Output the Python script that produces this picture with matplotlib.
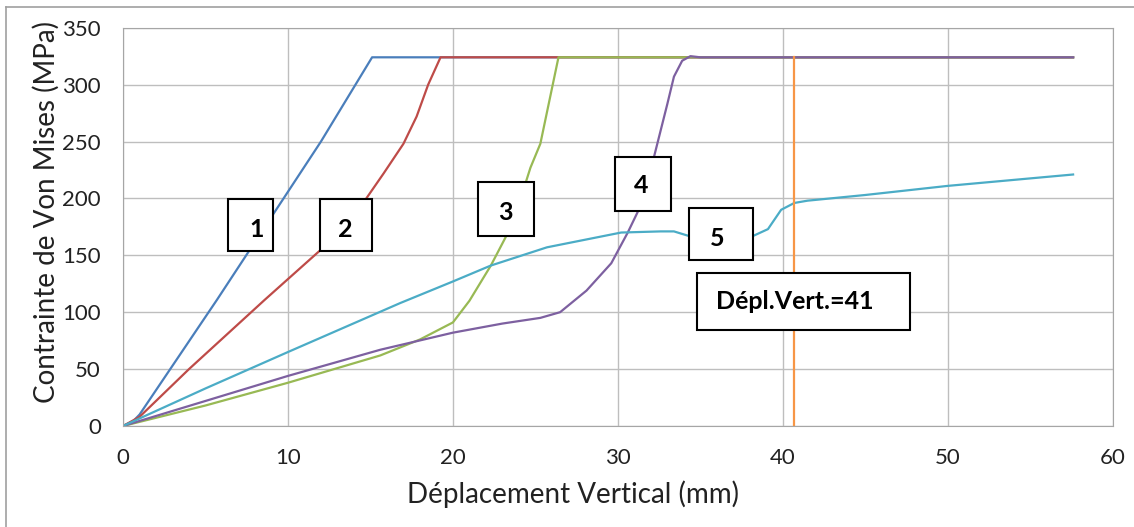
import matplotlib.pyplot as plt
from matplotlib.patches import Rectangle
from matplotlib.lines import Line2D

plt.rcParams['font.family'] = ['Lato', 'DejaVu Sans']

# Courbes contrainte / deplacement
x1 = [0, 0.6, 1.0, 5.7, 12.0, 15.1, 57.6]
y1 = [0, 4, 10, 111, 250, 324, 324]

x2 = [0, 1.0, 4.0, 8.6, 12.0, 14.75, 15.8, 17.0, 17.8, 18.5, 19.25, 57.6]
y2 = [0, 8, 50, 111, 155, 200, 222, 248, 272, 300, 324, 324]

x3 = [0, 5, 10, 15.6, 18.0, 20.0, 21.0, 22.3, 23.2, 24.0, 24.7, 25.3, 26.4, 57.6]
y3 = [0, 18, 38, 62, 76, 91, 110, 141, 166, 195, 227, 248, 324, 324]

x4 = [0, 5, 10, 15.6, 20, 23, 25.3, 26.5, 28.1, 29.6, 30.6, 31.2, 32.2, 33.0, 33.4, 33.9, 34.4, 35.0, 57.6]
y4 = [0, 22, 44, 67, 82, 90, 95, 100, 119, 143, 170, 188, 237, 283, 307, 321, 325, 324, 324]

x5 = [0, 5, 10, 16.8, 20.0, 22.3, 25.7, 30.2, 32.6, 33.4, 34.3, 36.0, 38.2, 39.1, 39.9, 40.7, 41.5, 45, 50, 57.6]
y5 = [0, 33, 65, 108, 127, 141, 157, 170, 171, 171, 167, 163, 167, 173, 190, 196, 198, 203, 211, 221]

x_dep = [40.7, 40.7]
y_dep = [0, 324]

labels = ["1", "2", "3", "4", "5"]
label_x = [8.13, 13.5, 23.2, 31.4, 36.0]
label_y = [173, 173, 188, 211, 165]
box_x0 = [6.37, 11.95, 21.5, 29.8, 34.3]
box_x1 = [9.1, 15.1, 24.9, 33.25, 38.2]
box_y0 = [153.8, 153.8, 167, 189, 145.9]
box_y1 = [199.5, 199.5, 214.4, 236.4, 191.6]

fig = plt.figure(figsize=(11.34, 5.27), dpi=100)
ax = fig.add_axes([0.1085, 0.1917, 0.8727, 0.7557])

ax.plot(x1, y1, color="#4A7EBB", lw=1.6)
ax.plot(x2, y2, color="#BE4B48", lw=1.6)
ax.plot(x3, y3, color="#98B954", lw=1.6)
ax.plot(x4, y4, color="#7D60A0", lw=1.6)
ax.plot(x5, y5, color="#4BACC6", lw=1.6)
ax.plot(x_dep, y_dep, color="#F79646", lw=1.6)

# boites de numerotation
for i in range(len(labels)):
    ax.add_patch(Rectangle((box_x0[i], box_y0[i]), box_x1[i] - box_x0[i], box_y1[i] - box_y0[i],
                           facecolor="white", edgecolor="black", lw=1.5, zorder=5))
    ax.text(label_x[i], label_y[i], labels[i], fontsize=18, fontweight="bold",
            ha="center", va="center", zorder=6)

ax.add_patch(Rectangle((34.8, 84.4), 47.7 - 34.8, 134.4 - 84.4,
                       facecolor="white", edgecolor="black", lw=1.5, zorder=5))
ax.text(40.7, 109, "Dépl.Vert.=41", fontsize=18, fontweight="bold",
        ha="center", va="center", zorder=6)

ax.set_xlim(0, 60)
ax.set_ylim(0, 350)
ax.set_xticks(range(0, 61, 10))
ax.set_yticks(range(0, 351, 50))
ax.grid(True, color="#BEBEBE", lw=1)
ax.set_axisbelow(True)
ax.tick_params(length=0, labelsize=16, colors="#222222")
ax.tick_params(axis="x", pad=16)
ax.tick_params(axis="y", pad=16)
for s in ax.spines.values():
    s.set_color("#A6A6A6")

ax.set_xlabel("Déplacement Vertical (mm)", fontsize=20, color="#222222")
ax.xaxis.set_label_coords(0.455, -0.136)
ax.set_ylabel("Contrainte de Von Mises (MPa)", fontsize=20, color="#222222")
ax.yaxis.set_label_coords(-0.064, 0.537)

# cadre du graphique
fig.add_artist(Line2D([6 / 1134, 1], [1 - 7 / 527, 1 - 7 / 527], color="#A0A0A0", lw=1.2))
fig.add_artist(Line2D([6 / 1134, 6 / 1134], [0, 1 - 7 / 527], color="#A0A0A0", lw=1.2))

plt.savefig("out.png")
